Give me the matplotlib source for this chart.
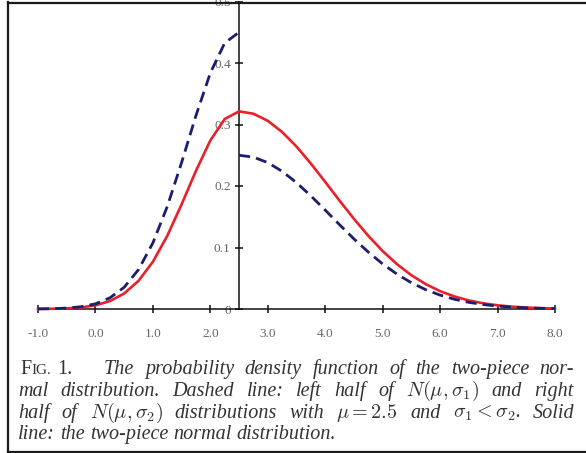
import matplotlib
matplotlib.use('Agg')
import matplotlib.pyplot as plt
from matplotlib.lines import Line2D

W, H = 586, 453
plt.rcParams['mathtext.fontset'] = 'cm'

# ---------------- data ----------------
x_left = [-1.0, -0.75, -0.5, -0.25, 0.0, 0.25, 0.5, 0.75, 1.0, 1.25, 1.5,
          1.75, 2.0, 2.25, 2.5]
dashed_left = [0.0002, 0.0005, 0.0015, 0.0037, 0.0084, 0.0180, 0.0353, 0.0641,
               0.1075, 0.1665, 0.2382, 0.3146, 0.3838, 0.4325, 0.45]
solid_left = [0.0001, 0.0004, 0.0010, 0.0026, 0.0060, 0.0128, 0.0252, 0.0458,
              0.0768, 0.1189, 0.1701, 0.2247, 0.2741, 0.3089, 0.3214]

x_right = [2.5, 2.75, 3.0, 3.25, 3.5, 3.75, 4.0, 4.25, 4.5, 4.75, 5.0, 5.25,
           5.5, 5.75, 6.0, 6.25, 6.5, 6.75, 7.0, 7.25, 7.5, 7.75, 8.0]
dashed_right = [0.25, 0.24695, 0.23803, 0.22386, 0.20543, 0.18396, 0.16072,
                0.13703, 0.11399, 0.09253, 0.07328, 0.05664, 0.04271, 0.03142,
                0.02256, 0.01581, 0.01081, 0.00721, 0.00469, 0.00298, 0.00185,
                0.00112, 0.00066]
solid_right = [0.3214, 0.31748, 0.30601, 0.28779, 0.26410, 0.23650, 0.20662,
               0.17616, 0.14655, 0.11895, 0.09421, 0.07281, 0.05491, 0.04040,
               0.02901, 0.02032, 0.01389, 0.00927, 0.00603, 0.00383, 0.00237,
               0.00143, 0.00085]

xticks = [-1.0, 0.0, 1.0, 2.0, 3.0, 4.0, 5.0, 6.0, 7.0, 8.0]
xtick_labels = ['-1.0', '0.0', '1.0', '2.0', '3.0', '4.0', '5.0', '6.0', '7.0', '8.0']
yticks = [0.0, 0.1, 0.2, 0.3, 0.4, 0.5]
ytick_labels = ['0', '0.1', '0.2', '0.3', '0.4', '0.5']
axis_x = 2.5

caption_head = ['F', 'IG.', '1.']
caption_lines = [
    ['The', 'probability', 'density', 'function', 'of', 'the', 'two-piece', 'nor-'],
    ['mal', 'distribution.', 'Dashed', 'line:', 'left', 'half', 'of',
     r'$N(\mu,\sigma_1)$', 'and', 'right'],
    ['half', 'of', r'$N(\mu,\sigma_2)$', 'distributions', 'with', r'$\mu=2.5$',
     'and', r'$\sigma_1<\sigma_2$.', 'Solid'],
    ['line:', 'the', 'two-piece', 'normal', 'distribution.'],
]

# ---------------- figure ----------------
fig = plt.figure(figsize=(W / 100, H / 100), dpi=100)
ax = fig.add_axes([38 / W, 1 - 309 / H, (555 - 38) / W, (309 - 1.5) / H])
ax.set_xlim(-1.0, 8.0)
ax.set_ylim(0.0, 0.5)

solid_x = x_left + x_right[1:]
solid_y = solid_left + solid_right[1:]
ax.plot(solid_x, solid_y, color='#e8202a', lw=1.9, zorder=3, clip_on=False)
ax.plot(x_left, dashed_left, color='#1b1e6e', lw=2.0, dashes=(4, 2.2), zorder=4,
        clip_on=False)
ax.plot(x_right, dashed_right, color='#1b1e6e', lw=2.0, dashes=(4, 2.2), zorder=4,
        clip_on=False)

for s in ['top', 'right']:
    ax.spines[s].set_visible(False)
ax.spines['left'].set_position(('data', axis_x))
ax.spines['bottom'].set_position(('data', 0))
for s in ['left', 'bottom']:
    ax.spines[s].set_linewidth(1.1)
    ax.spines[s].set_color('#111111')

tick_font = dict(family='Liberation Serif', size=9.5)
ax.set_xticks(xticks)
ax.set_xticklabels(xtick_labels, color='#666666', **tick_font)
ax.set_yticks(yticks)
ax.set_yticklabels(ytick_labels, color='#666666', **tick_font)
ax.tick_params(axis='both', direction='inout', length=6, width=1.1, color='#111111')
ax.tick_params(axis='x', pad=11)
ax.tick_params(axis='y', pad=3)

# ---------------- caption ----------------
cap_color = '#333333'
cap_size = 14.5
baselines = [374, 396, 418, 439]


def fy(y):
    return 1 - y / H


fig.canvas.draw()
r = fig.canvas.get_renderer()

# FIG. 1. in small caps
x = 20
head_sizes = [cap_size, cap_size * 0.75, cap_size]
head_gap = [0.5, 6, 0]
for word, sz, g in zip(caption_head, head_sizes, head_gap):
    t = fig.text(x / W, fy(baselines[0]), word, family='Liberation Serif',
                 size=sz, color=cap_color, va='baseline', ha='left')
    fig.canvas.draw()
    x += t.get_window_extent(r).width + g


def place_line(words, x0, x1, yb, justify=True):
    texts = [fig.text(0, fy(yb), w, family='Liberation Serif', style='italic',
                      size=cap_size, color=cap_color, va='baseline', ha='left')
             for w in words]
    fig.canvas.draw()
    widths = [t.get_window_extent(r).width for t in texts]
    if justify:
        gap = (x1 - x0 - sum(widths)) / (len(words) - 1)
    else:
        gap = 5.0
    xx = x0
    for t, w in zip(texts, widths):
        t.set_x(xx / W)
        xx += w + gap


place_line(caption_lines[0], 104, 574, baselines[0])
place_line(caption_lines[1], 18, 574, baselines[1])
place_line(caption_lines[2], 18, 574, baselines[2])
place_line(caption_lines[3], 18, 574, baselines[3], justify=False)

# border (left, top, bottom)
bc = '#1a1a1a'
fig.add_artist(Line2D([8 / W, 8 / W], [fy(2), fy(452)], transform=fig.transFigure,
                      color=bc, lw=1.6))
fig.add_artist(Line2D([8 / W, 1.0], [fy(2.5), fy(2.5)], transform=fig.transFigure,
                      color=bc, lw=1.6))
fig.add_artist(Line2D([8 / W, 1.0], [fy(451.5), fy(451.5)], transform=fig.transFigure,
                      color=bc, lw=1.6))

fig.savefig('out.png', dpi=100)
